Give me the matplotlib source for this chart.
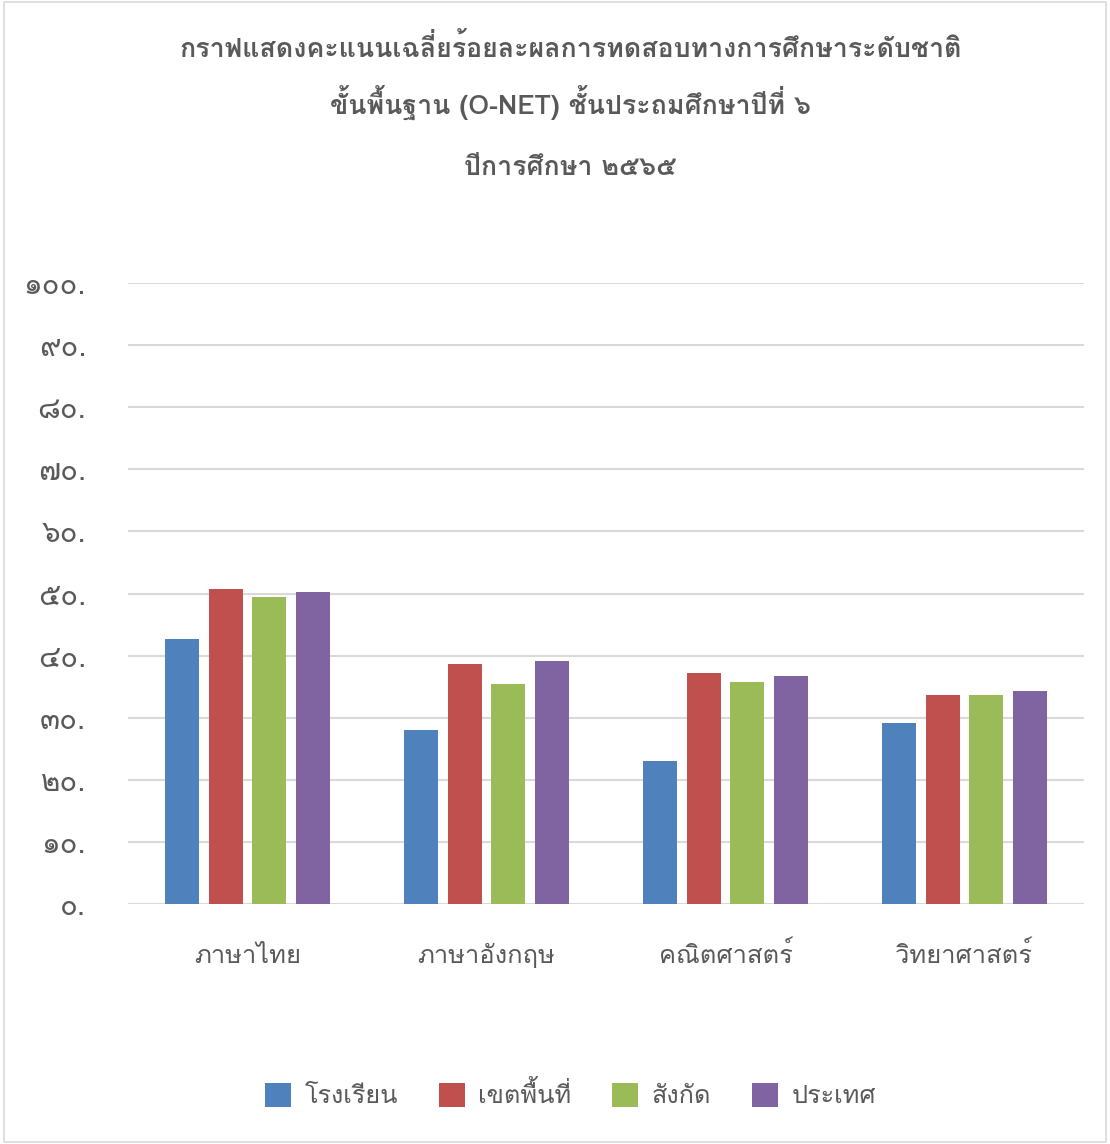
import matplotlib
matplotlib.use("Agg")
import numpy as np
import matplotlib.pyplot as plt
from matplotlib.patches import Rectangle

# data
subjects = ["ภาษาไทย", "ภาษาอังกฤษ", "คณิตศาสตร์", "วิทยาศาสตร์"]
series_names = ["โรงเรียน", "เขตพื้นที่", "สังกัด", "ประเทศ"]
school = [42.7, 28.0, 23.0, 29.1]
district = [50.7, 38.6, 37.2, 33.7]
affiliation = [49.4, 35.4, 35.7, 33.7]
country = [50.2, 39.1, 36.7, 34.3]
yticks = [0, 10, 20, 30, 40, 50, 60, 70, 80, 90, 100]
title_lines = ["กราฟแสดงคะแนนเฉลี่ยร้อยละผลการทดสอบทางการศึกษาระดับชาติ",
               "ขั้นพื้นฐาน (O-NET) ชั้นประถมศึกษาปีที่ ๖",
               "ปีการศึกษา ๒๕๖๕"]

colors = ["#4F81BD", "#C0504D", "#9BBB59", "#8064A2"]
text_color = "#595959"
thai_digits = "๐๑๒๓๔๕๖๗๘๙"

def to_thai(n):
    return "".join(thai_digits[int(c)] for c in str(n)) + "."

# Loma places stacked tone marks correctly without text shaping
plt.rcParams['font.family'] = ['Loma', 'FreeSerif', 'DejaVu Sans']

fig = plt.figure(figsize=(11.1, 11.44), dpi=100)
ax = fig.add_axes([0.1153, 0.2098, 0.8613, 0.5428])
renderer = fig.canvas.get_renderer()

def text_width(s, size, weight="normal"):
    t = fig.text(0, 0, s, fontsize=size, fontweight=weight)
    w = t.get_window_extent(renderer).width
    t.remove()
    return w

values = [school, district, affiliation, country]
x = np.arange(len(subjects))
bar_w = 0.142
step = 0.182
handles = []
for i, (name, vals) in enumerate(zip(series_names, values)):
    h = ax.bar(x + (i - 1.5) * step, vals, width=bar_w, color=colors[i], label=name, zorder=3)
    handles.append(h)

ax.set_xlim(-0.5, 3.5)
ax.set_ylim(0, 100)
ax.set_yticks(yticks)
tick_size = 17 * 63 / text_width("๑๐๐.", 17)
ax.set_yticklabels([to_thai(v) for v in yticks], fontsize=tick_size, color=text_color)
ax.set_xticks(x)
ax.set_xticklabels([])
ax.tick_params(axis="both", length=0)
ax.tick_params(axis="y", pad=30)
ax.grid(axis="y", color="#d9d9d9", linewidth=1.5, zorder=0)
for s in ax.spines.values():
    s.set_visible(False)

# category labels, baseline aligned
cat_size = 20 * 107 / text_width(subjects[0], 20)
for xi, lab in zip(x, subjects):
    ax.text(xi, -0.095, lab, transform=ax.get_xaxis_transform(), ha="center", va="baseline",
            fontsize=cat_size, color=text_color)

# title
title_size = 20 * 782 / text_width(title_lines[0], 20, "bold")
for line, yb in zip(title_lines, [0.950, 0.8995, 0.847]):
    fig.text(0.514, yb, line, ha="center", va="baseline", fontsize=title_size,
             fontweight="bold", color=text_color)

leg_size = 20 * 94 / text_width(series_names[0], 20)
leg = fig.legend(handles=handles, labels=series_names, loc="center", bbox_to_anchor=(0.514, 0.043),
                 ncol=4, frameon=False, fontsize=leg_size, handlelength=26 / (leg_size * 100 / 72),
                 handleheight=27 / (leg_size * 100 / 72), handletextpad=0.55, columnspacing=1.6)
for t in leg.get_texts():
    t.set_color(text_color)

fig.patches.append(Rectangle((0.004, 0.002), 0.992, 0.996, transform=fig.transFigure,
                             fill=False, edgecolor="#d9d9d9", linewidth=1.2))

fig.savefig("out.png")
